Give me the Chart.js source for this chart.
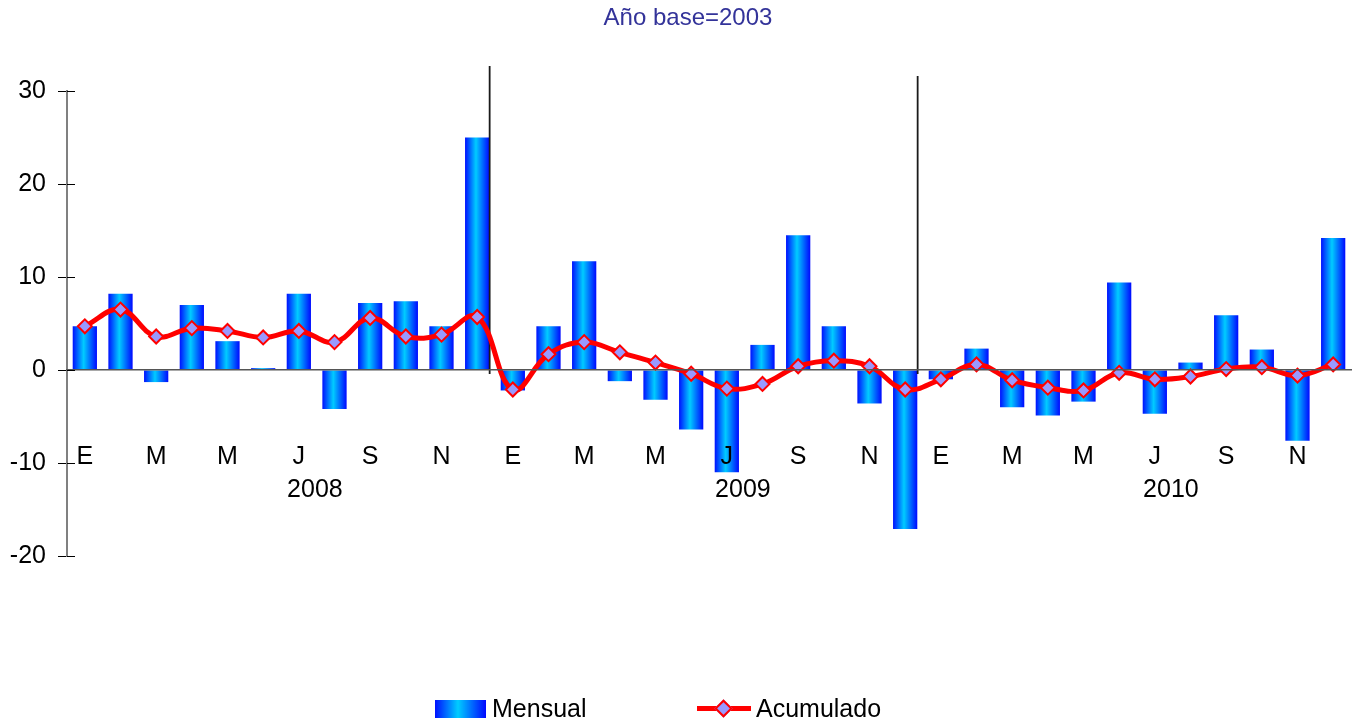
<!DOCTYPE html>
<html lang="es">
<head>
<meta charset="utf-8">
<title>Año base=2003</title>
<script src="https://cdn.jsdelivr.net/npm/chart.js@4.4.1/dist/chart.umd.min.js"></script>
<style>
  html, body { margin: 0; padding: 0; background: #fff; }
  #wrap { position: relative; width: 1360px; height: 721px; font-family: "Liberation Sans", Arial, sans-serif; }
  #legend .item { position: absolute; font-size: 25px; line-height: 30px; color: #000; }
  #legend .sw-bar { position: absolute; width: 51px; height: 18px;
    background: linear-gradient(to right, #0010ff, #00ccff 45%, #0008ff); }
  #legend .sw-line { position: absolute; width: 54px; height: 5px; background: #ff0000; }
  #legend .sw-dot { position: absolute; width: 9px; height: 9px; background: #9999ff;
    border: 2px solid #ff0000; transform: rotate(45deg); }
</style>
</head>
<body>
<div id="wrap">
  <canvas id="myChart" width="1360" height="721"></canvas>
  <div id="legend">
    <div class="sw-bar" style="left:435px; top:700px;"></div>
    <div class="item" id="lg0" style="left:492px; top:693px;"></div>
    <div class="sw-line" style="left:697px; top:706px;"></div>
    <div class="sw-dot" style="left:717px; top:702px;"></div>
    <div class="item" id="lg1" style="left:756px; top:693px;"></div>
  </div>
</div>
<script>
const chartTitle = "Año base=2003";
const seriesNames = ["Mensual", "Acumulado"];
const years = ["2008", "2009", "2010"];
const monthTicks = ["E", "", "M", "", "M", "", "J", "", "S", "", "N", ""];
const tickLabels = [...monthTicks, ...monthTicks, ...monthTicks];

const mensual = [
  4.7, 8.2, -1.3, 7.0, 3.1, 0.2, 8.2, -4.2, 7.2, 7.4, 4.7, 25.0,
  -2.2, 4.7, 11.7, -1.2, -3.2, -6.4, -11.0, 2.7, 14.5, 4.7, -3.6, -17.1,
  -1.0, 2.3, -4.0, -4.9, -3.4, 9.4, -4.7, 0.8, 5.9, 2.2, -7.6, 14.2
];
const acumulado = [
  4.7, 6.5, 3.6, 4.5, 4.2, 3.5, 4.2, 3.0, 5.6, 3.6, 3.8, 5.7,
  -2.1, 1.7, 3.0, 1.9, 0.8, -0.4, -2.0, -1.5, 0.4, 1.0, 0.4, -2.1,
  -1.0, 0.6, -1.1, -1.9, -2.2, -0.3, -1.0, -0.7, 0.1, 0.3, -0.6, 0.6
];
const yTicks = [-20, -10, 0, 10, 20, 30];

document.getElementById("lg0").textContent = seriesNames[0];
document.getElementById("lg1").textContent = seriesNames[1];

const FONT = "'Liberation Sans', Arial, sans-serif";
const BAR_FRAC = 0.68;

// horizontal blue-cyan-blue gradient for each bar
function barFill(ctx) {
  const chart = ctx.chart;
  const x = chart.scales.x;
  if (!x || !chart.chartArea || ctx.type !== "data") return "#00aaff";
  const c = x.getPixelForValue(ctx.dataIndex);
  const w = (x.width / tickLabels.length) * BAR_FRAC;
  const g = chart.ctx.createLinearGradient(c - w / 2, 0, c + w / 2, 0);
  g.addColorStop(0, "#0010ff");
  g.addColorStop(0.45, "#00ccff");
  g.addColorStop(1, "#0008ff");
  return g;
}

// title, year separators, inner tick halves on the y axis, year labels
const extras = {
  id: "extras",
  afterDatasetDraw(chart, args) {
    if (args.meta.type !== "bar") return;
    const { ctx, scales: { x, y } } = chart;
    const cat = x.width / tickLabels.length;
    const tops = [chart.chartArea.top - 25, chart.chartArea.top - 15];
    ctx.save();
    ctx.strokeStyle = "#1a1a1a";
    ctx.lineWidth = 1.8;
    [11, 23].forEach((idx, i) => {
      const px = x.getPixelForValue(idx) + cat * 0.35;
      ctx.beginPath();
      ctx.moveTo(px, tops[i]);
      ctx.lineTo(px, y.getPixelForValue(0) + 4);
      ctx.stroke();
    });
    ctx.restore();
  },
  afterDraw(chart) {
    const { ctx, scales: { x, y } } = chart;
    const cat = x.width / tickLabels.length;
    ctx.save();
    ctx.strokeStyle = "#000";
    ctx.lineWidth = 1;
    yTicks.forEach(v => {
      const py = Math.round(y.getPixelForValue(v)) + 0.5;
      ctx.beginPath();
      ctx.moveTo(x.left, py);
      ctx.lineTo(x.left + 8, py);
      ctx.stroke();
    });
    ctx.textAlign = "center";
    ctx.textBaseline = "middle";
    ctx.fillStyle = "#333399";
    ctx.font = "24px " + FONT;
    ctx.fillText(chartTitle, chart.width / 2 + 8, 18);
    ctx.fillStyle = "#000";
    ctx.font = "25px " + FONT;
    const yy = y.getPixelForValue(0) + 120;
    years.forEach((yr, i) => {
      const px = x.getPixelForValue(i * 12 + 6) + cat * 0.45;
      ctx.fillText(yr, px, yy);
    });
    ctx.restore();
  }
};

new Chart(document.getElementById("myChart"), {
  data: {
    labels: tickLabels,
    datasets: [
      {
        type: "line",
        label: seriesNames[1],
        data: acumulado,
        borderColor: "#ff0000",
        borderWidth: 5,
        tension: 0.4,
        pointStyle: "rectRot",
        pointRadius: 7,
        pointBorderWidth: 2,
        pointBackgroundColor: "#9999ff",
        pointBorderColor: "#ff0000",
        fill: false
      },
      {
        type: "bar",
        label: seriesNames[0],
        data: mensual,
        backgroundColor: barFill,
        borderWidth: 0,
        categoryPercentage: 1,
        barPercentage: BAR_FRAC
      }
    ]
  },
  options: {
    responsive: false,
    animation: false,
    layout: { padding: { left: 0, right: 4, top: 91, bottom: 165 } },
    plugins: {
      legend: { display: false },
      tooltip: { enabled: false },
      title: { display: false }
    },
    scales: {
      x: {
        type: "category",
        position: { y: 0 },
        afterFit(scale) { scale.paddingLeft = 0; scale.paddingRight = 0; },
        grid: { display: false, drawTicks: false },
        border: { display: true, color: "#555555", width: 1.5, z: 1 },
        ticks: {
          z: 1,
          autoSkip: false,
          maxRotation: 0,
          padding: 72,
          color: "#000",
          font: { family: FONT, size: 25, lineHeight: 1.2 }
        }
      },
      y: {
        min: -20,
        max: 30,
        afterFit(scale) { scale.width = 67; },
        afterBuildTicks(scale) { scale.ticks = yTicks.map(v => ({ value: v })); },
        grid: { display: true, drawOnChartArea: false, drawTicks: true, tickLength: 9, color: "#000" },
        border: { display: true, color: "#808080", width: 2 },
        ticks: {
          padding: 12,
          color: "#000",
          font: { family: FONT, size: 25, lineHeight: 1.2 }
        }
      }
    }
  },
  plugins: [extras]
});
</script>
</body>
</html>
